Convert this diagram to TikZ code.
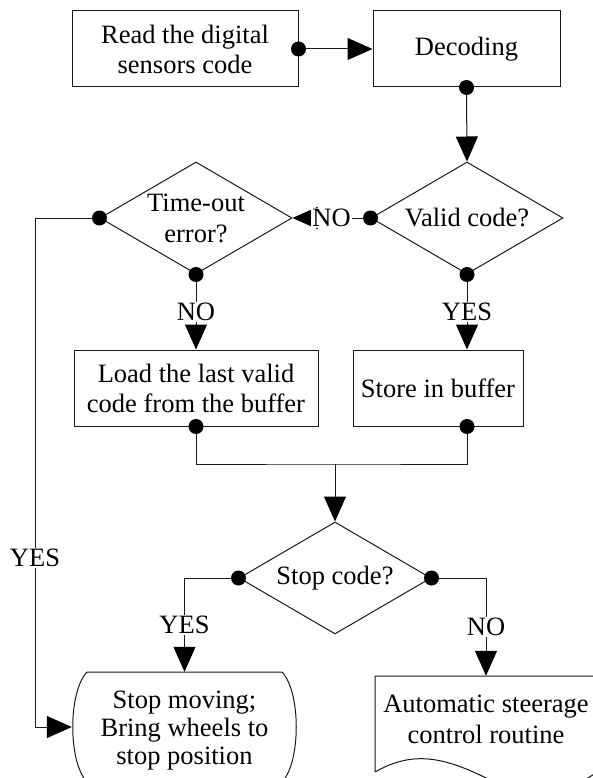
\documentclass[tikz,border=0pt]{standalone}
\usepackage{fontspec}
\setmainfont{Liberation Serif}
\usetikzlibrary{shapes.geometric,arrows.meta}
\begin{document}
\begin{tikzpicture}[x=1pt,y=-1pt,
  every node/.style={font=\fontsize{26.5}{30}\selectfont},
  line/.style={draw=black!90, line width=1pt},
  procbox/.style={rectangle, line, inner sep=0pt, align=center, minimum height=76pt},
  decision/.style={diamond, line, inner sep=0pt, minimum width=192pt, minimum height=112pt},
  lbl/.style={fill=white, inner sep=1.5pt},
  arr/.style={line, -{Triangle[length=25pt,width=22pt,color=black,fill=black]}},
  dot/.style={circle, fill=black, inner sep=0pt, minimum size=15pt},
]
\useasboundingbox (0,0) rectangle (592,778);

% process boxes and decisions
\node[procbox, minimum width=226pt] (read) at (185,49) {Read the digital\\sensors code};
\node[procbox, minimum width=187pt] (dec) at (466.5,49) {Decoding};
\node[decision] (valid) at (467,218) {};
\node (validt) at (valid.center) {Valid code?};
\node[decision] (tout) at (196,218) {};
\node[align=center, font=\fontsize{26.5}{31}\selectfont] (toutt) at (196,218) {Time-out\\error?};
\node[procbox, minimum width=244pt] (load) at (196,388) {Load the last valid\\code from the buffer};
\node[procbox, minimum width=170pt] (store) at (438,388) {Store in buffer};
\node[decision] (stopc) at (335,578) {};
\node (stopct) at (stopc.center) {Stop code?};

% terminal: stop moving
\node[minimum width=225pt, minimum height=110pt, inner sep=0pt] (halt) at (184.5,727) {};
\node[align=center, font=\fontsize{26.5}{28}\selectfont] (haltt) at (184.5,731) {Stop moving;\\Bring wheels to\\stop position};
\draw[line] (87,672) -- (282,672) .. controls (301,692) and (301,762) .. (282,782)
  -- (87,782) .. controls (68,762) and (68,692) .. (87,672);

% document: steering routine
\node[minimum width=222pt, minimum height=100pt, inner sep=0pt] (doc) at (486,726) {};
\node[align=center, font=\fontsize{26.5}{31}\selectfont] (doct) at (486,719) {Automatic steerage\\control routine};
\draw[line] (375,772) -- (375,676) -- (597,676) -- (597,772)
  .. controls (565,795) and (530,800) .. (486,778)
  .. controls (440,755) and (410,752) .. (375,772);

% helper points
\coordinate (join) at (335,464);
\coordinate (lft) at (35,218);
\coordinate (sdot) at (valid.south |- store.south);

% connectors
\draw[arr] (read.east) -- (dec.west);
\draw[arr] (dec.south) -- (valid.north);
\draw[arr] (valid.west) -- node[lbl] {NO} (tout.east);
\draw[arr] (tout.south) -- node[lbl] {NO} (load.north);
\draw[arr] (valid.south) -- node[lbl] {YES} (valid.south |- store.north);
\draw[line] (load.south) |- (join) -| (sdot);
\draw[arr] (join) -- (stopc.north);
\draw[arr] (stopc.west) -| node[lbl, pos=0.75] {YES} (halt.north);
\draw[arr] (stopc.east) -| node[lbl, pos=0.75] {NO} (doc.north);
\draw[arr] (tout.west) -- (lft) |- node[lbl, pos=0.334] {YES} (halt.west);

% connection dots
\node[dot] (p1) at (read.east) {};
\node[dot] (p2) at (dec.south) {};
\node[dot] (p3) at (valid.west) {};
\node[dot] (p4) at (valid.south) {};
\node[dot] (p5) at (tout.west) {};
\node[dot] (p6) at (tout.south) {};
\node[dot] (p7) at (load.south) {};
\node[dot] (p8) at (sdot) {};
\node[dot] (p9) at (stopc.west) {};
\node[dot] (p10) at (stopc.east) {};
\end{tikzpicture}
\end{document}
